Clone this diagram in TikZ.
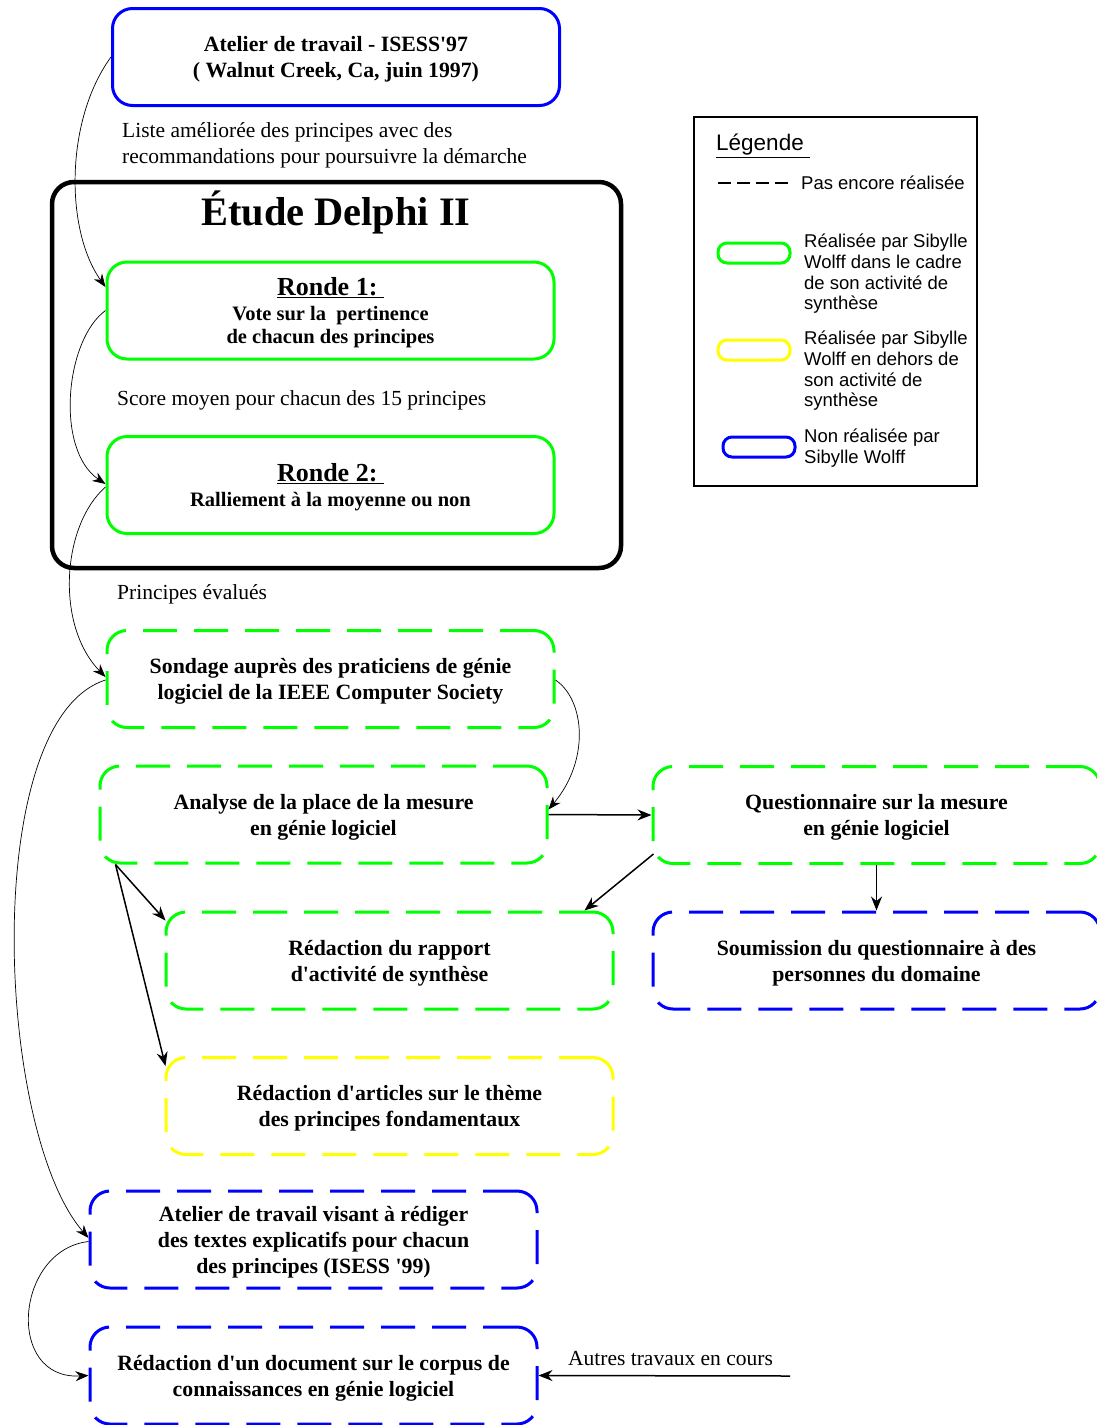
\documentclass[tikz,border=0pt]{standalone}
\usepackage{fontspec}
\setmainfont{Liberation Serif}
\newfontfamily\legfont{Liberation Sans}
\usetikzlibrary{arrows.meta}
\definecolor{vert}{RGB}{0,255,0}
\definecolor{bleu}{RGB}{0,0,255}
\definecolor{jaune}{RGB}{255,255,0}
\newcommand\cadrefont{\fontsize{21.8}{26}\selectfont\bfseries}
\newcommand\rondefont{\fontsize{20.5}{23}\selectfont\bfseries}
\newcommand\etiqfont{\fontsize{21.5}{26}\selectfont}
\newcommand\apos{\textquotesingle}

\begin{document}
\begin{tikzpicture}[x=1pt, y=-1pt,
  cadre/.style={rounded corners=20pt, line width=3pt, minimum width=447pt, minimum height=97pt, align=center, font=\cadrefont, inner sep=2pt, text height=46pt},
  pointille/.style={dash pattern=on 34pt off 17pt},
  etiq/.style={anchor=west, align=left, font=\etiqfont, inner sep=0pt},
  fleche/.style={-{Stealth[length=14pt,width=11pt]}, line width=1.5pt},
  courbe/.style={-{Stealth[length=13pt,width=10pt]}, line width=0.7pt},
  pastille/.style={rounded corners=9pt, line width=3pt, minimum width=72pt, minimum height=20pt, inner sep=0pt},
  legtxt/.style={anchor=north west, align=left, inner sep=0pt, font=\legfont\fontsize{18.5}{20.7}\selectfont}]
\useasboundingbox (0,0) rectangle (1096,1425);

% Etude Delphi
\node[draw, line width=4.5pt, rounded corners=22pt, minimum width=569pt, minimum height=386pt] (delphi) at (336.5,375) {};
\node[font=\fontsize{40.4}{42}\selectfont\bfseries] (titre) at (336,212) {Étude Delphi II};

% Boites
\node[cadre, draw=bleu] (isess97) at (336,57) {Atelier de travail - ISESS\apos97\\( Walnut Creek, Ca, juin 1997)};
\node[cadre, draw=vert, font=\rondefont, text height=71pt] (ronde1) at (330.5,310.5) {{\fontsize{26}{28}\selectfont\underline{Ronde 1:~}}\\[2pt]Vote sur la\ \ pertinence\\de chacun des principes};
\node[cadre, draw=vert, font=\rondefont, text height=47pt] (ronde2) at (330.5,485) {{\fontsize{26}{28}\selectfont\underline{Ronde 2:~}}\\[2pt]Ralliement à la moyenne ou non};
\node[cadre, draw=vert, pointille] (sondage) at (330.5,679) {Sondage auprès des praticiens de génie\\logiciel de la IEEE Computer Society};
\node[cadre, draw=vert, pointille] (analyse) at (323.5,814.5) {Analyse de la place de la mesure\\en génie logiciel};
\node[cadre, draw=vert, pointille] (quest) at (876.5,815) {Questionnaire sur la mesure\\en génie logiciel};
\node[cadre, draw=vert, pointille] (rapport) at (389.5,960.5) {Rédaction du rapport\\d\apos activité de synthèse};
\node[cadre, draw=bleu, pointille] (soumission) at (876.5,960.5) {Soumission du questionnaire à des\\personnes du domaine};
\node[cadre, draw=jaune, pointille] (articles) at (389.5,1106) {Rédaction d\apos articles sur le thème\\des principes fondamentaux};
\node[cadre, draw=bleu, pointille, text height=72pt] (isess99) at (313.5,1239.5) {Atelier de travail visant à rédiger\\des textes explicatifs pour chacun\\des principes (ISESS \apos99)};
\node[cadre, draw=bleu, pointille] (redoc) at (313.5,1375.5) {Rédaction d\apos un document sur le corpus de\\connaissances en génie logiciel};

% Etiquettes
\node[etiq] (listelbl) at (122,145) {Liste améliorée des principes avec des\\recommandations pour poursuivre la démarche};
\node[etiq] (scorelbl) at (117,400) {Score moyen pour chacun des 15 principes};
\node[etiq] (evallbl) at (117,594) {Principes évalués};

% Fleches
\draw[courbe] (isess97.west) .. controls (65,120) and (65,230) .. ([yshift=23.5pt]ronde1.west);
\draw[courbe] (ronde1.west) .. controls (65,340) and (55,450) .. ([yshift=1pt]ronde2.west);
\draw[courbe] ([yshift=-2pt]ronde2.west) .. controls (62,525) and (55,625) .. ([yshift=2pt]sondage.west);
\draw[courbe] ([yshift=-1pt]sondage.west) .. controls (-20,720) and (-5,1130) .. ([yshift=1.5pt]isess99.west);
\draw[courbe] ([yshift=-2pt]isess99.west) .. controls (15,1250) and (5,1380) .. (redoc.west);
\draw[courbe] ([yshift=-1pt]sondage.east) .. controls (585,700) and (590,760) .. ([yshift=5pt]analyse.east);
\draw[fleche] (analyse.east) -- (quest.west);
\draw[fleche] ([shift={(2,-11)}]quest.south west) -- ([xshift=-30pt]rapport.north east);
\draw[fleche] ([xshift=17pt]analyse.south west) -- ([shift={(1,10)}]rapport.north west);
\draw[fleche] ([xshift=17pt]analyse.south west) -- ([shift={(1,10)}]articles.north west);
\draw[fleche] (quest.south) -- (soumission.north);
\coordinate (autres) at (790,1376);
\draw[fleche] (autres) -- (redoc.east) node[pos=0.475, above=6pt, font=\etiqfont] (autreslbl) {Autres travaux en cours};

% Legende
\node[draw, line width=1.5pt, minimum width=283pt, minimum height=369pt] (legende) at (835.5,301.5) {};
\node[anchor=west, inner sep=0pt, font=\legfont\fontsize{22.5}{24}\selectfont] (legtitre) at (716,146) {\underline{Légende~}};
\draw[line width=1.5pt, dash pattern=on 13pt off 6pt] (718,183) -- (790,183);
\node[anchor=west, inner sep=0pt, font=\legfont\fontsize{18.5}{20.7}\selectfont] (pasencore) at (801,183) {Pas encore réalisée};
\node[pastille, draw=vert] (legvert) at (754,253) {};
\node[legtxt] (txtvert) at (804,234) {Réalisée par Sibylle\\Wolff dans le cadre\\de son activité de\\synthèse};
\node[pastille, draw=jaune] (legjaune) at (754,350) {};
\node[legtxt] (txtjaune) at (804,331) {Réalisée par Sibylle\\Wolff en dehors de\\son activité de\\synthèse};
\node[pastille, draw=bleu] (legbleu) at (759,447) {};
\node[legtxt] (txtbleu) at (804,429) {Non réalisée par\\Sibylle Wolff};

\end{tikzpicture}
\end{document}
